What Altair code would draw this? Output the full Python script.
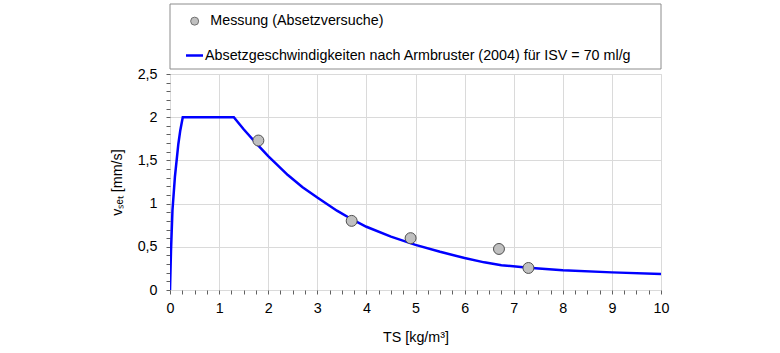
import altair as alt
import pandas as pd

# ---- data ----
curve_ts = [0.00, 0.02, 0.05, 0.10, 0.17, 0.21, 0.26, 1.30, 1.50, 1.80, 2.00, 2.40, 2.70,
            3.00, 3.40, 3.70, 4.00, 4.50, 5.00, 5.50, 6.00, 6.40, 6.75, 7.30, 8.00, 9.00, 10.00]
curve_v = [0.00, 0.45, 0.92, 1.31, 1.69, 1.85, 2.00, 2.00, 1.86, 1.67, 1.55, 1.33, 1.19,
           1.07, 0.918, 0.819, 0.732, 0.617, 0.522, 0.442, 0.370, 0.320, 0.287, 0.258, 0.230, 0.204, 0.185]

meas_ts = [1.8, 3.7, 4.9, 6.7, 7.3]
meas_v = [1.73, 0.80, 0.60, 0.475, 0.255]

series_names = ["Messung (Absetzversuche)",
                "Absetzgeschwindigkeiten nach Armbruster (2004) für ISV = 70 ml/g"]

x_major = [0, 1, 2, 3, 4, 5, 6, 7, 8, 9, 10]
y_major = [0, 0.5, 1, 1.5, 2, 2.5]
x_minor = [i * 0.25 for i in range(41)]
y_minor = [round(i * 0.1, 1) for i in range(26)]

x_title = "TS [kg/m³]"
y_title = "vₛₑₜ [mm/s]"

FONT = "Liberation Sans"
FS = 14.3

curve_df = pd.DataFrame({"TS": curve_ts, "v": curve_v,
                         "series": series_names[1], "order": list(range(len(curve_ts)))})
meas_df = pd.DataFrame({"TS": meas_ts, "v": meas_v, "series": series_names[0]})

xscale = alt.Scale(domain=[0, 10], nice=False, zero=False)
yscale = alt.Scale(domain=[0, 2.5], nice=False, zero=False)

common_legend = dict(title=None, orient="none", direction="vertical", padding=0,
                     symbolOffset=0, labelFont=FONT, labelFontSize=FS,
                     labelColor="#000000", labelLimit=700, symbolOpacity=1)

legend_points = alt.Legend(legendX=17.5, legendY=-60, symbolType="circle", symbolSize=64,
                           symbolFillColor="#c0c0c0", symbolStrokeColor="#707070",
                           symbolStrokeWidth=1, labelOffset=8.5, **common_legend)
legend_line = alt.Legend(legendX=14.5, legendY=-28.5, symbolType="stroke", symbolSize=289,
                         symbolStrokeWidth=2.5, labelOffset=0.5, **common_legend)

x_axis_main = alt.Axis(values=x_major, orient="bottom", grid=True, gridColor="#dadada",
                       ticks=False, domain=False, labelFont=FONT, labelFontSize=FS,
                       labelColor="#000000", labelPadding=11, labelFlush=False,
                       title=x_title, titleFont=FONT, titleFontSize=FS,
                       titleFontWeight="normal", titleColor="#000000", titlePadding=15)
y_axis_main = alt.Axis(values=y_major, orient="left", grid=True, gridColor="#dadada",
                       ticks=False, domain=False, format="~g",
                       labelExpr="replace(datum.label, '.', ',')",
                       labelFont=FONT, labelFontSize=FS, labelColor="#000000",
                       labelPadding=13, labelFlush=False,
                       title=y_title, titleFont=FONT, titleFontSize=FS,
                       titleFontWeight="normal", titleColor="#000000", titlePadding=13)
x_axis_minor = alt.Axis(values=x_minor, orient="bottom", grid=False, domain=False,
                        labels=False, ticks=True, tickSize=4, tickColor="#606060", title=None)
y_axis_minor = alt.Axis(values=y_minor, orient="left", grid=False, domain=False,
                        labels=False, ticks=True, tickSize=4, tickColor="#606060", title=None)

legend_box = alt.Chart(alt.Data(values=[{}])).mark_rect(
    fill="#ffffff", stroke="#8c8c8c", strokeWidth=1, clip=False
).encode(x=alt.value(0), x2=alt.value(491), y=alt.value(-70), y2=alt.value(-5))

line = alt.Chart(curve_df).mark_line(strokeWidth=2.5, clip=True).encode(
    x=alt.X("TS:Q", scale=xscale, axis=x_axis_main),
    y=alt.Y("v:Q", scale=yscale, axis=y_axis_main),
    stroke=alt.Stroke("series:N", scale=alt.Scale(domain=[series_names[1]], range=["#0000ff"]),
                      legend=legend_line),
    order="order:Q",
)

points = alt.Chart(meas_df).mark_point(filled=True, size=120, stroke="#505050",
                                       strokeWidth=1, opacity=1).encode(
    x=alt.X("TS:Q", scale=xscale, axis=x_axis_minor),
    y=alt.Y("v:Q", scale=yscale, axis=y_axis_minor),
    fill=alt.Fill("series:N", scale=alt.Scale(domain=[series_names[0]], range=["#c0c0c0"]),
                  legend=legend_points),
)

chart = alt.layer(legend_box, line, points).resolve_axis(
    x="independent", y="independent"
).resolve_scale(fill="independent", stroke="independent").properties(
    width=491, height=216,
    autosize=alt.AutoSizeParams(type="none"),
    padding={"left": 170, "top": 74, "right": 119, "bottom": 63},
).configure_view(stroke="#8c8c8c", strokeWidth=1, fill="#fdfdfd").configure(background="#ffffff")

chart.save("out.html", embed_options={"renderer": "svg", "actions": False})
